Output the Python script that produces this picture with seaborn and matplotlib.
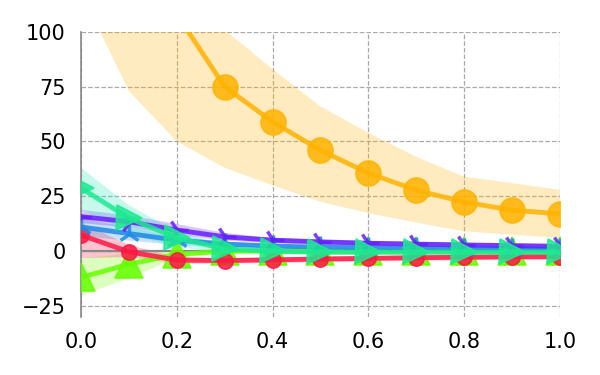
import numpy as np
import matplotlib
matplotlib.use("Agg")
import matplotlib.pyplot as plt
import seaborn as sns

# x positions shared by every series
x = [0.0, 0.1, 0.2, 0.3, 0.4, 0.5, 0.6, 0.7, 0.8, 0.9, 1.0]

# amber series (circles), mostly above the others
amber_mean = [400, 200, 108, 75, 59, 46, 35.6, 27.8, 22.4, 18.7, 17]
amber_low = [118, 73, 50, 38, 30, 22.5, 17.3, 13, 9, 7.5, 6]
amber_high = [300, 220, 135, 101, 83, 66, 54, 43, 34, 31, 28]

# violet series (tri_right)
violet_mean = [15.7, 13.4, 9.6, 6.5, 5.0, 4.2, 3.6, 3.2, 2.8, 2.5, 2.2]
violet_low = [13, 11, 7.5, 5, 3.8, 3.0, 2.4, 2.0, 1.6, 1.3, 1.0]
violet_high = [19, 16.5, 12.5, 8.5, 6.2, 5.4, 4.8, 4.4, 4.0, 3.7, 3.4]

# blue series (tri_up)
blue_mean = [11, 8, 5, 3.2, 2.3, 1.8, 1.5, 1.3, 1.1, 1.0, 0.9]
blue_low = [7, 5, 3, 2, 1.3, 0.8, 0.5, 0.3, 0.1, 0.0, -0.1]
blue_high = [15, 11, 7, 4.5, 3.3, 2.8, 2.5, 2.3, 2.1, 2.0, 1.9]

# spring green series (triangle right)
green_mean = [28.8, 15, 6, 1, 0, -0.5, -0.5, -0.5, -0.5, -0.5, -0.5]
green_low = [19, 8, 2, -0.5, -1, -1.5, -1.5, -1.5, -1.5, -1.5, -1.5]
green_high = [38, 21, 9, 3, 1, 0.5, 0.5, 0.5, 0.5, 0.5, 0.5]

# lime series (triangle up)
lime_mean = [-12, -6, -1.5, 0, 0, 0, 0, 0, 0, 0, 0]
lime_low = [-20, -12, -3, -0.8, -0.8, -0.8, -0.8, -0.8, -0.8, -0.8, -0.8]
lime_high = [-3, -1, 0.5, 0.8, 0.8, 0.8, 0.8, 0.8, 0.8, 0.8, 0.8]

# red series (circles)
red_mean = [7.3, -0.3, -4.1, -4.3, -4.0, -3.6, -3.3, -3.0, -2.8, -2.6, -2.5]
red_low = [-3, -2.5, -5.5, -5.5, -5.2, -4.8, -4.5, -4.2, -4.0, -3.8, -3.7]
red_high = [13, 3, -2.5, -3.0, -2.8, -2.4, -2.1, -1.8, -1.6, -1.4, -1.3]

xticks = [0.0, 0.2, 0.4, 0.6, 0.8, 1.0]
yticks = [-25, 0, 25, 50, 75, 100]

series = [
    # mean, low, high, color, band color, marker, size
    (amber_mean, amber_low, amber_high, '#FFB300', '#FFB300', 'o', 18),
    (lime_mean, lime_low, lime_high, '#64FF00', '#76FF03', '^', 20),
    (red_mean, red_low, red_high, '#FF1744', '#FF1744', 'o', 11),
    (blue_mean, blue_low, blue_high, '#1E88E5', '#1E88E5', '2', 16),
    (violet_mean, violet_low, violet_high, '#651FFF', '#651FFF', '4', 16),
    (green_mean, green_low, green_high, '#1DE990', '#1DE9B6', '>', 18),
]

sns.set_style('whitegrid', {'grid.linestyle': '--', 'grid.color': '#aaaaaa'})
fig, ax = plt.subplots(figsize=(6, 3.75), dpi=100)
fig.subplots_adjust(left=0.135, right=0.933, top=0.915, bottom=0.155)

ax.axhline(0, color='#888888', lw=1.6, zorder=1.5)

for i, (m, lo, hi, c, bc, mk, ms) in enumerate(series):
    ax.fill_between(x, lo, hi, color=bc, alpha=0.25, lw=0, zorder=1)
    sns.lineplot(x=x, y=m, ax=ax, color=c, lw=3.5, marker=mk, markersize=ms,
                 markeredgewidth=2.5 if mk in ('2', '4') else 1.2,
                 markeredgecolor=c, alpha=0.85, zorder=3 + i)

ax.set_xlim(0, 1)
ax.set_ylim(-30, 100)
ax.set_xticks(xticks)
ax.set_yticks(yticks)
ax.tick_params(length=0, labelsize=15, pad=11, colors='black')
ax.grid(True, linestyle='--', color='#aaaaaa', lw=0.9)
for s in ['top', 'right', 'bottom']:
    ax.spines[s].set_visible(False)
ax.spines['left'].set_color('#888888')
ax.spines['left'].set_linewidth(1.2)

plt.savefig('out.png', dpi=100)
